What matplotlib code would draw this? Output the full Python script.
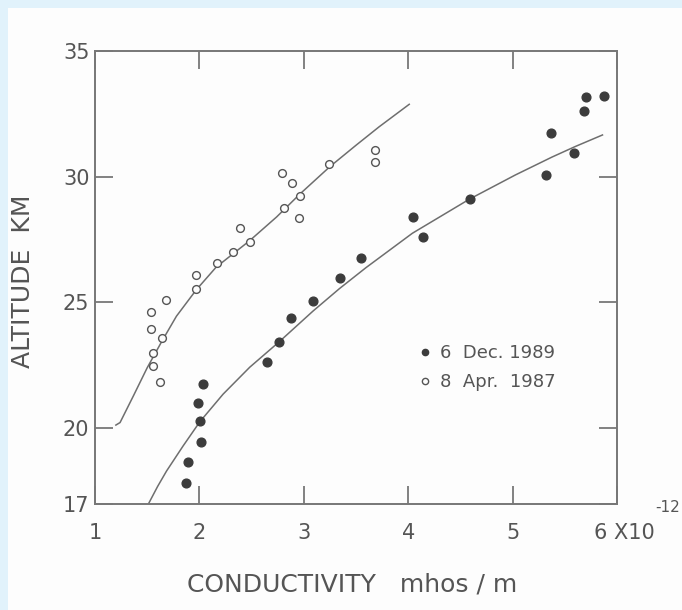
import matplotlib.pyplot as plt
import matplotlib.transforms as mtransforms
from matplotlib.lines import Line2D
from matplotlib.patches import Rectangle

# open circles, 8 Apr 1987
apr_x = [1.54, 1.54, 1.64, 1.56, 1.56, 1.62, 1.68, 1.97, 1.97, 2.17, 2.32,
         2.39, 2.48, 2.79, 2.81, 2.89, 2.96, 2.95, 3.24, 3.68, 3.68]
apr_y = [24.60, 23.96, 23.59, 23.00, 22.46, 21.83, 25.09, 25.55, 26.08, 26.55, 27.01,
         27.94, 27.39, 30.14, 28.74, 29.74, 29.23, 28.34, 30.49, 31.05, 30.60]

# filled circles, 6 Dec 1989
dec_x = [1.87, 1.89, 2.02, 2.01, 1.99, 2.03, 2.65, 2.76, 2.88, 3.09, 3.35,
         3.55, 4.05, 4.14, 4.59, 5.32, 5.37, 5.59, 5.68, 5.70, 5.88]
dec_y = [17.81, 18.65, 19.44, 20.27, 21.01, 21.77, 22.61, 23.43, 24.38, 25.06, 25.98,
         26.77, 28.39, 27.61, 29.11, 30.07, 31.73, 30.93, 32.62, 33.16, 33.22]

# hand drawn fit curves
fit_apr_x = [1.20, 1.24, 1.37, 1.50, 1.64, 1.78, 1.97, 2.16, 2.48, 2.74, 2.96,
             3.25, 3.50, 3.72, 4.01]
fit_apr_y = [20.12, 20.22, 21.30, 22.40, 23.45, 24.45, 25.50, 26.40, 27.45, 28.40, 29.30,
             30.40, 31.25, 31.98, 32.88]
fit_dec_x = [1.51, 1.60, 1.685, 1.844, 2.004, 2.227, 2.482, 2.769, 3.087, 3.342,
             3.595, 4.04, 4.588, 5.027, 5.377, 5.60, 5.861]
fit_dec_y = [16.97, 17.68, 18.29, 19.29, 20.25, 21.35, 22.42, 23.45, 24.65, 25.55,
             26.38, 27.75, 29.11, 30.07, 30.78, 31.20, 31.66]

xticks = [1, 2, 3, 4, 5, 6]
xlabels = ['1', '2', '3', '4', '5', '6 X10']
yticks = [17, 20, 25, 30, 35]

ink = '#555555'
line_col = '#6e6e6e'

fig = plt.figure(figsize=(6.82, 6.10), dpi=100, facecolor='#e1f2fb')
# scanned paper
fig.patches.append(Rectangle((8 / 682, 0), 1, 1 - 8 / 610, transform=fig.transFigure,
                             facecolor='#fdfdfd', edgecolor='none', zorder=-1))

ax = fig.add_axes([95 / 682, 106.5 / 610, 522 / 682, 452.5 / 610])
ax.set_facecolor('none')

ax.plot(fit_apr_x, fit_apr_y, color=line_col, lw=1.1)
ax.plot(fit_dec_x, fit_dec_y, color=line_col, lw=1.1)
ax.plot(dec_x, dec_y, 'o', color='#3c3c3c', ms=6.3, mec='#3c3c3c')
ax.plot(apr_x, apr_y, 'o', mfc='#fdfdfd', mec='#555555', ms=5.6, mew=1.0)

ax.set_xlim(1, 6)
ax.set_ylim(17, 35)
ax.set_xticks(xticks)
ax.set_xticklabels(xlabels)
ax.set_yticks(yticks)

for s in ax.spines.values():
    s.set_color('#777777')
    s.set_linewidth(1.4)

ax.tick_params(direction='in', length=13, width=1.3, color='#777777',
               labelsize=15, labelcolor=ink, top=True, right=True)
ax.tick_params(axis='x', pad=14)
ax.tick_params(axis='y', pad=4)

# nudge the "6 X10" label to the right a little
lab = ax.get_xticklabels()[-1]
lab.set_transform(lab.get_transform() + mtransforms.ScaledTranslation(5 / 72, 0, fig.dpi_scale_trans))

fig.text(655 / 682, 1 - 508 / 610, '-12', fontsize=11, color=ink,
         ha='left', va='center')
fig.text(23 / 682, 1 - 281 / 610, 'ALTITUDE  KM', fontsize=18, color=ink,
         rotation=90, ha='center', va='center')
fig.text(352 / 682, 1 - 585 / 610, 'CONDUCTIVITY   mhos / m', fontsize=18, color=ink,
         ha='center', va='center')

handles = [Line2D([], [], ls='none', marker='o', color='#3c3c3c', ms=4.5),
           Line2D([], [], ls='none', marker='o', mfc='#fdfdfd', mec='#555555', ms=4.5, mew=1.0)]
ax.legend(handles, ['6  Dec. 1989', '8  Apr.  1987'], loc='upper left',
          bbox_to_anchor=(0.605, 0.372), frameon=False, fontsize=13,
          labelcolor=ink, handlelength=0.6, handletextpad=0.5, borderpad=0,
          labelspacing=0.6)

plt.savefig('out.png', dpi=100, facecolor=fig.get_facecolor())
